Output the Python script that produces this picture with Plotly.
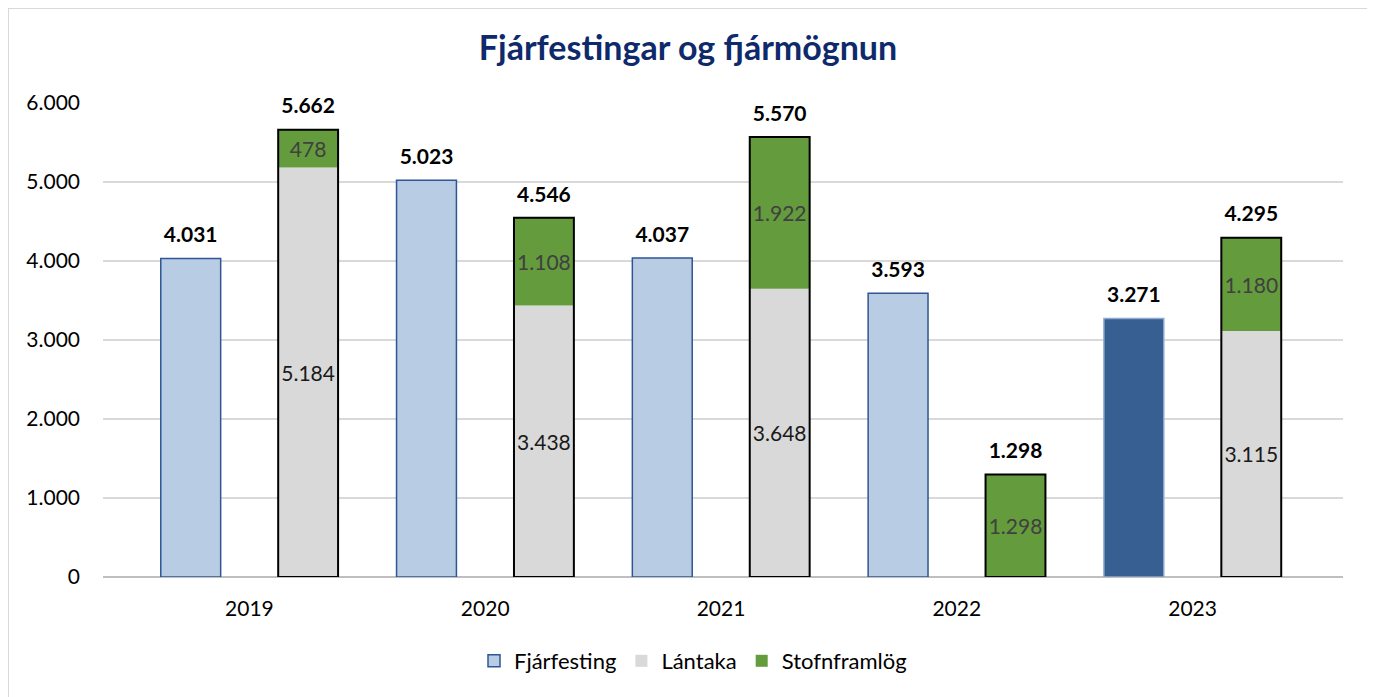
import plotly.graph_objects as go

years = ["2019", "2020", "2021", "2022", "2023"]
fjarfesting = [4031, 5023, 4037, 3593, 3271]
lantaka = [5184, 3438, 3648, None, 3115]
stofnframlog = [478, 1108, 1922, 1298, 1180]
fjarmognun_total = [5662, 4546, 5570, 1298, 4295]

fjar_colors = ["#B8CCE4", "#B8CCE4", "#B8CCE4", "#B8CCE4", "#375F91"]
fjar_lines = ["#2F5597", "#2F5597", "#2F5597", "#2F5597", "#8EA9CF"]

lant_base = [v if v is not None else 0 for v in lantaka]
idx = list(range(len(years)))

FONT = "Lato"
BW = 0.254
OFF_A = -0.376
OFF_B = 0.122
x_a = [i + OFF_A + BW / 2 for i in idx]
x_b = [i + OFF_B + BW / 2 for i in idx]

fig = go.Figure()

fig.add_trace(go.Bar(
    name="Fjárfesting", x=idx, y=fjarfesting,
    width=BW, offset=OFF_A,
    marker=dict(color=fjar_colors, line=dict(color=fjar_lines, width=1.5)),
    hoverinfo="skip",
))

fig.add_trace(go.Bar(
    name="Lántaka", x=idx, y=lantaka,
    width=BW, offset=OFF_B,
    marker=dict(color="#D9D9D9", line=dict(width=0)),
    texttemplate="%{y:,.0f}", textposition="inside", insidetextanchor="middle",
    textfont=dict(family=FONT, size=21, color="#1a1a1a"),
    constraintext="none", hoverinfo="skip",
))

fig.add_trace(go.Bar(
    name="Stofnframlög", x=idx, y=stofnframlog, base=lant_base,
    width=BW, offset=OFF_B,
    marker=dict(color="#639B3D", line=dict(width=0)),
    texttemplate="%{y:,.0f}", textposition="inside", insidetextanchor="middle",
    textfont=dict(family=FONT, size=21, color="#404040"),
    constraintext="none", hoverinfo="skip",
))

fig.add_trace(go.Bar(
    name="Samtals", x=idx, y=fjarmognun_total,
    width=BW, offset=OFF_B, showlegend=False,
    marker=dict(color="rgba(0,0,0,0)", line=dict(color="black", width=2)),
    hoverinfo="skip",
))

# total labels above the bars
for xs, ys in ((x_a, fjarfesting), (x_b, fjarmognun_total)):
    fig.add_trace(go.Scatter(
        x=xs, y=ys, mode="markers+text", showlegend=False,
        marker=dict(size=16, color="rgba(0,0,0,0)"),
        text=[f"<b>{v:,}</b>".replace(",", ".") for v in ys],
        textposition="top center",
        textfont=dict(family=FONT, size=21, color="black"),
        cliponaxis=False, hoverinfo="skip",
    ))

W, H = 1375, 697
# the page is drawn with an 8px body offset, so shift everything up-left by 8px
ml, mr, mt, mb = 95, 40, 95, 128
pw, ph = W - ml - mr, H - mt - mb
base_y = H - mb  # pixel row of the zero line inside the figure

fig.update_layout(
    width=W, height=H,
    barmode="overlay",
    separators=",.",
    paper_bgcolor="white", plot_bgcolor="white",
    margin=dict(l=ml, r=mr, t=mt, b=mb),
    font=dict(family=FONT, size=21, color="black"),
    title=dict(
        text="<b>Fjárfestingar og fjármögnun</b>",
        font=dict(family=FONT, size=34, color="#0E2A6B"),
        x=680 / W, xanchor="center", xref="container",
        y=1 - 40 / H, yanchor="middle", yref="container",
    ),
    xaxis=dict(
        type="linear", range=[-0.621, 4.638],
        tickvals=idx, ticktext=years,
        showgrid=False, showline=False, zeroline=False, ticks="",
        tickfont=dict(family=FONT, size=21, color="black"),
        ticklabelstandoff=17,
    ),
    yaxis=dict(
        range=[0, 6000], dtick=1000, tickformat=",.0f",
        showgrid=True, gridcolor="#D9D9D9", gridwidth=2,
        zeroline=True, zerolinecolor="#BFBFBF", zerolinewidth=2,
        showline=False, ticks="",
        tickfont=dict(family=FONT, size=21, color="black"),
        ticklabelstandoff=22,
    ),
    legend=dict(
        orientation="h", x=(685 - ml) / pw, xanchor="center",
        y=(base_y - 653) / ph, yanchor="middle",
        font=dict(family=FONT, size=22, color="black"),
        traceorder="normal", itemwidth=30,
    ),
    shapes=[dict(
        type="rect", xref="paper", yref="paper",
        x0=(0 - ml) / pw, x1=(1360 - ml) / pw,
        y0=(base_y - 697) / ph, y1=(base_y - 0) / ph,
        line=dict(color="#D9D9D9", width=2), fillcolor="rgba(0,0,0,0)",
        layer="below",
    )],
)

fig.write_html("out.html")
